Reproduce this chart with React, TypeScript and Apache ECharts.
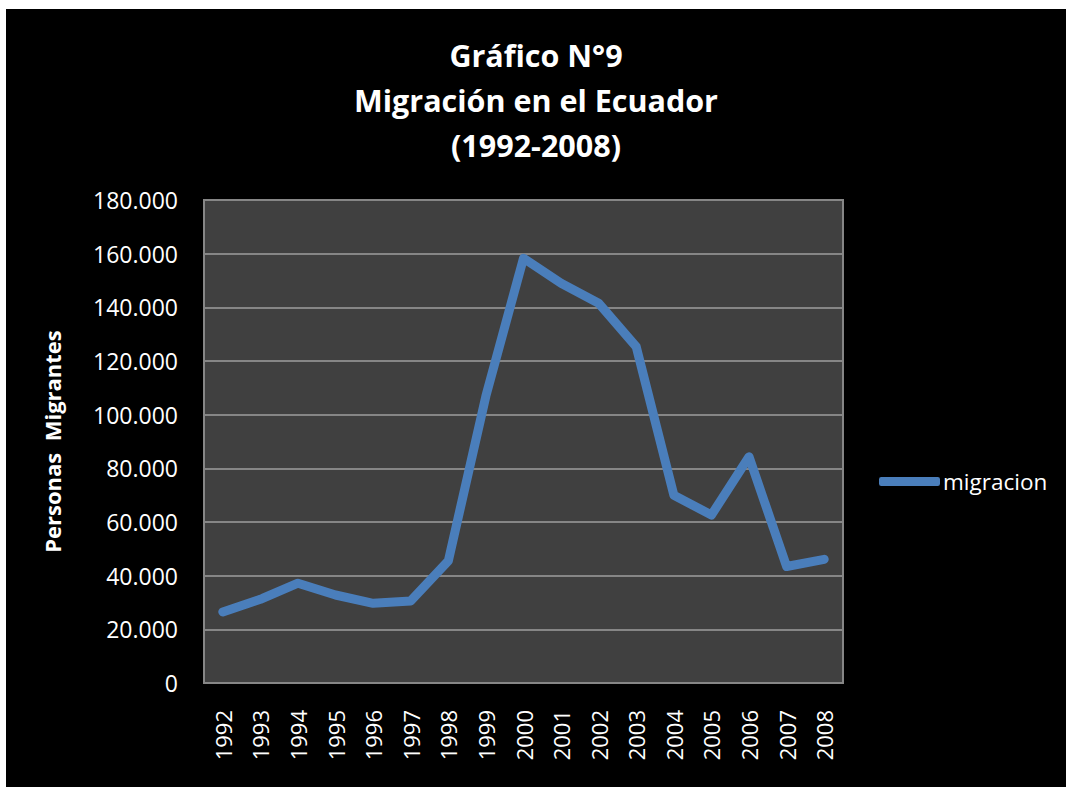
import React, { useEffect, useRef } from "react";
import * as echarts from "echarts";

const years = ["1992","1993","1994","1995","1996","1997","1998","1999","2000","2001","2002","2003","2004","2005","2006","2007","2008"];
const migracion = [26500, 31200, 37200, 32800, 29700, 30600, 45500, 107000, 158300, 149000, 141500, 125300, 70000, 62600, 84300, 43400, 46100];
const yTicks = { min: 0, max: 180000, interval: 20000 };
const titleLines = ["Gráfico N°9", "Migración en el Ecuador", "(1992-2008)"];
const seriesName = "migracion";
const yAxisTitle = "Personas  Migrantes";

const fmt = (v: number) => {
  if (v === 0) return "0";
  const s = String(Math.round(v));
  return s.replace(/\B(?=(\d{3})+(?!\d))/g, ".");
};

export default function App() {
  const ref = useRef<HTMLDivElement>(null);
  useEffect(() => {
    if (!ref.current) return;
    const chart = echarts.init(ref.current, undefined, { renderer: "svg" });
    const font = "'Open Sans', sans-serif";
    chart.setOption({
      animation: false,
      backgroundColor: "#000000",
      title: {
        text: titleLines.join("\n"),
        left: "center",
        top: 18,
        textStyle: {
          color: "#ffffff",
          fontFamily: font,
          fontWeight: "bold",
          fontSize: 30.5,
          lineHeight: 45,
        },
      },
      legend: {
        data: [seriesName],
        left: 868,
        top: 456,
        orient: "vertical",
        icon: "roundRect",
        itemWidth: 61,
        itemHeight: 9,
        itemGap: 0,
        textStyle: { color: "#ffffff", fontFamily: font, fontSize: 22.5, padding: [0, 0, 0, -2] },
      },
      grid: {
        left: 198,
        top: 191,
        right: 223,
        bottom: 104,
        show: true,
        backgroundColor: "#404040",
        borderColor: "#868686",
        borderWidth: 2,
      },
      xAxis: {
        type: "category",
        data: years,
        boundaryGap: true,
        axisLine: { show: true, lineStyle: { color: "#868686", width: 2 } },
        axisTick: { show: false },
        axisLabel: {
          color: "#ffffff",
          fontFamily: font,
          fontSize: 22,
          rotate: 90,
          margin: 27,
          interval: 0,
        },
        splitLine: { show: false },
      },
      yAxis: {
        type: "value",
        min: yTicks.min,
        max: yTicks.max,
        interval: yTicks.interval,
        name: yAxisTitle,
        nameLocation: "middle",
        nameGap: 141,
        nameTextStyle: { color: "#ffffff", fontFamily: font, fontWeight: "bold", fontSize: 22 },
        axisLine: { show: true, lineStyle: { color: "#868686", width: 2 } },
        axisTick: { show: false },
        axisLabel: {
          color: "#ffffff",
          fontFamily: font,
          fontSize: 23,
          margin: 26,
          formatter: (v: number) => fmt(v),
        },
        splitLine: { show: true, lineStyle: { color: "#868686", width: 2 } },
      },
      series: [
        {
          name: seriesName,
          type: "line",
          data: migracion,
          showSymbol: false,
          symbol: "none",
          color: "#4a7ebb",
          lineStyle: { color: "#4a7ebb", width: 9, cap: "round", join: "round" },
        },
      ],
    });
    return () => chart.dispose();
  }, []);
  return (
    <div
      ref={ref}
      style={{ position: "fixed", left: 6, top: 9, width: 1060, height: 778 }}
    />
  );
}
